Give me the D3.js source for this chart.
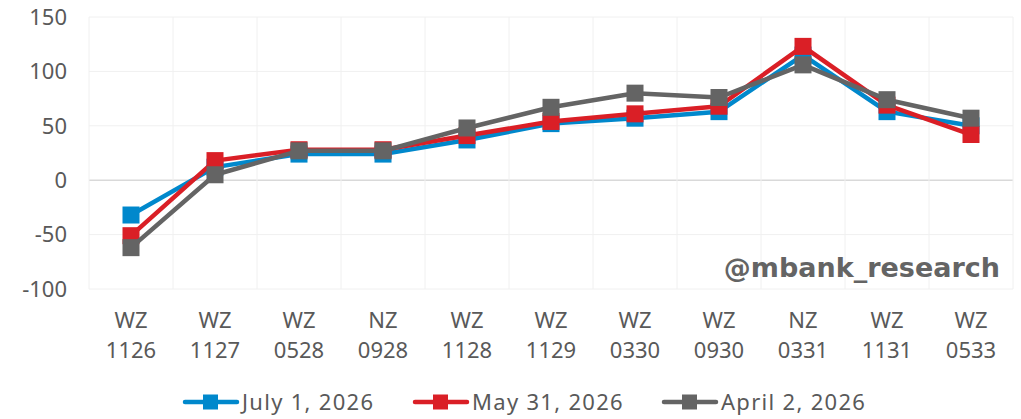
<!DOCTYPE html>
<meta charset="utf-8">
<head>
    <title>Spreads</title>
</head>
<style>
    body { margin: 0; background: #fff; }
    text { font-family: "Noto Sans", sans-serif; fill: #595959; }
</style>
<div id="chart"></div>
<script src="https://d3js.org/d3.v7.min.js"></script>
<script>

    var categories = [["WZ","1126"],["WZ","1127"],["WZ","0528"],["NZ","0928"],["WZ","1128"],["WZ","1129"],
                      ["WZ","0330"],["WZ","0930"],["NZ","0331"],["WZ","1131"],["WZ","0533"]];
    var seriesNames = ["July 1, 2026", "May 31, 2026", "April 2, 2026"];
    var july1  = [-32, 12, 24, 24, 37, 52, 57, 63, 115, 63, 50];
    var may31  = [-51, 18, 28, 28, 41, 54, 61, 68, 123, 69, 42];
    var april2 = [-62, 5, 27, 27, 48, 67, 80, 76, 106, 74, 57];
    var yTicks = [150, 100, 50, 0, -50, -100];
    var colors = ["#0088cc", "#da1f26", "#646464"];

    var margin = {top: 17, right: 8, bottom: 130, left: 89},
        width = 1021 - margin.left - margin.right,
        height = 419 - margin.top - margin.bottom;

    var svg = d3.select("#chart")
      .append("svg")
        .attr("width", 1021)
        .attr("height", 419)
      .append("g")
        .attr("transform", "translate(" + margin.left + "," + margin.top + ")");

    var x = d3.scaleBand()
      .domain(categories.map(function(d) { return d.join(" "); }))
      .range([0, width]);

    var y = d3.scaleLinear()
      .domain([-100, 150])
      .range([height, 0]);

    // grid
    svg.append("g")
      .selectAll("line")
      .data(yTicks)
      .enter().append("line")
        .attr("x1", 0).attr("x2", width)
        .attr("y1", function(d) { return y(d); })
        .attr("y2", function(d) { return y(d); })
        .attr("stroke", function(d) { return d === 0 ? "#d9d9d9" : "#f0f0f0"; })
        .attr("stroke-width", function(d) { return d === 0 ? 1.5 : 1; });

    svg.append("g")
      .selectAll("line")
      .data(x.domain().concat(["end"]))
      .enter().append("line")
        .attr("x1", function(d) { return d === "end" ? width : x(d); })
        .attr("x2", function(d) { return d === "end" ? width : x(d); })
        .attr("y1", 0).attr("y2", height)
        .attr("stroke", "#f0f0f0");

    // y axis labels
    svg.append("g")
      .selectAll("text")
      .data(yTicks)
      .enter().append("text")
        .attr("x", -22)
        .attr("y", function(d) { return y(d); })
        .attr("dy", "0.35em")
        .attr("text-anchor", "end")
        .style("font-size", "22px")
        .text(function(d) { return d; });

    // x axis labels
    var xl = svg.append("g")
      .selectAll("text")
      .data(categories)
      .enter().append("text")
        .attr("text-anchor", "middle")
        .style("font-size", "22px")
        .attr("transform", function(d) { return "translate(" + (x(d.join(" ")) + x.bandwidth() / 2) + "," + (height + 39) + ")"; });
    xl.append("tspan").attr("x", 0).attr("y", 0).text(function(d) { return d[0]; });
    xl.append("tspan").attr("x", 0).attr("y", 30).text(function(d) { return d[1]; });

    // watermark
    svg.append("text")
      .attr("x", width - 13)
      .attr("y", height - 12)
      .attr("text-anchor", "end")
      .style("font-family", "'DejaVu Sans', sans-serif")
      .style("font-weight", "bold")
      .style("font-size", "27px")
      .style("fill", "#646464")
      .text("@mbank_research");

    var line = d3.line()
      .x(function(d, i) { return x(categories[i].join(" ")) + x.bandwidth() / 2; })
      .y(function(d) { return y(d); });

    var allSeries = [july1, may31, april2];
    allSeries.forEach(function(s, k) {
        svg.append("path")
          .datum(s)
          .attr("fill", "none")
          .attr("stroke", colors[k])
          .attr("stroke-width", 4.5)
          .attr("stroke-linejoin", "round")
          .attr("d", line);
        svg.append("g")
          .selectAll("rect")
          .data(s)
          .enter().append("rect")
            .attr("x", function(d, i) { return x(categories[i].join(" ")) + x.bandwidth() / 2 - 8.5; })
            .attr("y", function(d) { return y(d) - 8.5; })
            .attr("width", 17)
            .attr("height", 17)
            .attr("fill", colors[k]);
    });

    // legend
    var legendX = [183, 413, 662];
    var legend = d3.select("svg").append("g");
    seriesNames.forEach(function(name, k) {
        var g = legend.append("g").attr("transform", "translate(" + legendX[k] + ",402)");
        g.append("line")
          .attr("x1", 2).attr("x2", 54)
          .attr("stroke", colors[k])
          .attr("stroke-width", 4.5)
          .attr("stroke-linecap", "round");
        g.append("rect")
          .attr("x", 20).attr("y", -7.5)
          .attr("width", 15).attr("height", 15)
          .attr("fill", colors[k]);
        g.append("text")
          .attr("x", 59)
          .attr("dy", "0.35em")
          .style("font-size", "22px")
          .style("letter-spacing", "1.3px")
          .text(name);
    });
</script>
